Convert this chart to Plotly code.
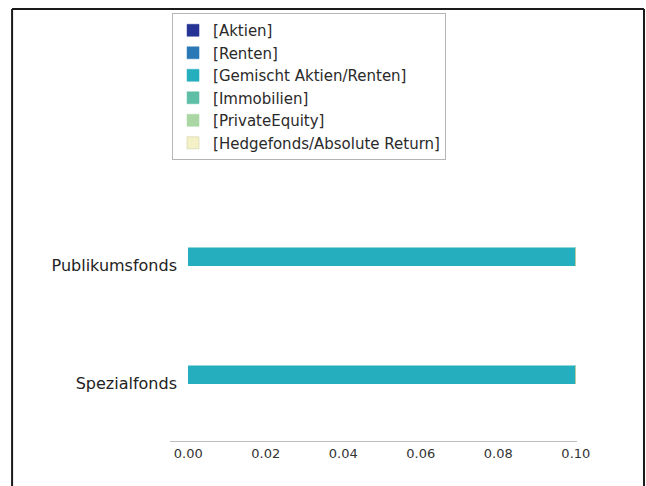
import plotly.graph_objects as go

# Fund types (y categories) and asset-class series
fund_types = ["Spezialfonds", "Publikumsfonds"]
series_names = [
    "[Aktien]",
    "[Renten]",
    "[Gemischt Aktien/Renten]",
    "[Immobilien]",
    "[PrivateEquity]",
    "[Hedgefonds/Absolute Return]",
]
series_values = {
    "[Aktien]": [0.0, 0.0],
    "[Renten]": [0.0, 0.0],
    "[Gemischt Aktien/Renten]": [0.10, 0.10],
    "[Immobilien]": [0.0, 0.0],
    "[PrivateEquity]": [0.0, 0.0],
    "[Hedgefonds/Absolute Return]": [0.0, 0.0],
}
series_colors = ["#253494", "#2a78b6", "#25aebd", "#5fbfa6", "#a9d6a3", "#f4f1c6"]
x_ticks = [0.00, 0.02, 0.04, 0.06, 0.08, 0.10]

FONT = "DejaVu Sans"

fig = go.Figure()
for name, color in zip(series_names, series_colors):
    fig.add_trace(go.Bar(
        y=fund_types,
        x=series_values[name],
        name=name,
        orientation="h",
        width=0.153,
        offset=-0.007,
        marker=dict(color=color, line=dict(width=0.5, color="#c8c8a0" if name.startswith("[Hedge") else color)),
    ))

# Frame around the figure (left, top, right edges)
frame = dict(type="line", xref="paper", yref="paper", line=dict(color="#1a1a1a", width=2))
fig.add_shape(x0=-0.388, x1=-0.388, y0=1.0023, y1=-0.2, **frame)
fig.add_shape(x0=-0.388, x1=1.1646, y0=1.0023, y1=1.0023, **frame)
fig.add_shape(x0=1.1646, x1=1.1646, y0=1.0023, y1=-0.2, **frame)

fig.update_layout(
    width=646,
    height=486,
    barmode="stack",
    margin=dict(l=170, r=69, t=10, b=45, autoexpand=False),
    paper_bgcolor="white",
    plot_bgcolor="white",
    font=dict(family=FONT, color="#222222"),
    legend=dict(
        x=0.005, y=0.993,
        xanchor="left", yanchor="top",
        bgcolor="white",
        bordercolor="#b5b5b5",
        borderwidth=1,
        font=dict(family=FONT, size=15, color="#2a2a2a"),
        traceorder="normal",
    ),
    xaxis=dict(
        range=[-0.0047, 0.1003],
        tickvals=x_ticks,
        ticktext=[f"{v:.2f}" for v in x_ticks],
        showgrid=False,
        zeroline=False,
        showline=True,
        linecolor="#bdbdbd",
        linewidth=1,
        ticks="",
        tickfont=dict(family=FONT, size=13, color="#333333"),
    ),
    yaxis=dict(
        type="category",
        range=[-0.49, 3.16],
        showgrid=False,
        zeroline=False,
        showline=False,
        ticks="",
        ticklabelstandoff=-8,
        tickfont=dict(family=FONT, size=16, color="#222222"),
    ),
)

fig.write_html("out.html")
